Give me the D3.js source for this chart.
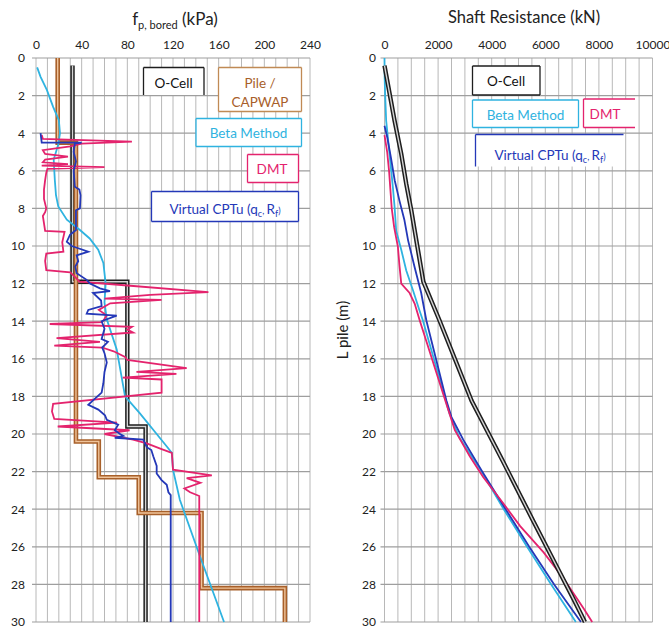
<!DOCTYPE html>
<html>
<head>
<meta charset="utf-8">
<script src="https://cdn.jsdelivr.net/npm/d3@7"></script>
<style>
  body { margin: 0; background: #fff; }
  svg { display: block; font-family: Lato, "Open Sans", sans-serif; }
</style>
</head>
<body>
<svg id="chart" width="669" height="630"></svg>
<script>
// ---- axis ticks ----
const depthTicks = d3.range(0, 31, 2);
const fsTicks = [0, 40, 80, 120, 160, 200, 240];
const qsTicks = [0, 2000, 4000, 6000, 8000, 10000];

// ---- unit shaft friction profiles: [depth (m), fs (kPa)] ----
const ocellFs = [[0.4,32],[11.9,32],[11.9,80],[19.6,80],[19.6,96],[30,96]];
const capwapFs = [[0,19],[4.5,19],[4.5,35],[20.4,35],[20.4,55],[22.3,55],[22.3,90],[24.2,90],
  [24.2,145],[28.2,145],[28.2,218],[30,218]];
const betaFs = [[0.5,1],[1,4],[1.7,9.5],[2.6,15],[3.3,20],[4.0,21],[4.6,19.5],[5.4,15.5],[6.5,16.5],
  [7.3,17.5],[7.9,19.5],[8.6,27],[9.15,38.5],[9.6,47],[10.2,54.5],[10.9,59],[12,61],[13,60],
  [13.9,62],[15.5,70.7],[18,78],[18.9,91],[20,105.7],[21,119],[21.9,120],[23.5,126],[26.5,143.6],[30,164.7]];
const dmtFs = [[4.1,5],[4.3,6],[4.45,84],[4.55,40],[4.7,30],[4.9,6],[5.1,8],[5.25,28],[5.4,8],[5.55,6],
  [5.65,28],[5.72,5],[5.8,60],[5.9,10],[6.1,9],[6.5,8],[7.0,7],[7.5,7],[8.0,9],[8.2,8],[8.4,6],[8.8,7],
  [9.2,8],[9.25,25],[9.8,23],[10.3,24],[10.4,9],[10.8,8],[11.28,9],[11.4,30],[11.7,35],[11.9,38],
  [12.1,80],[12.45,151],[12.6,100],[12.8,60],[12.87,110],[13.05,65],[13.4,55],[13.7,62],[14.05,58],
  [14.15,12],[14.3,84],[14.45,80],[14.6,85],[14.9,18],[15.1,56],[15.3,16],[15.4,58],[15.6,68],[15.9,78],
  [16.06,80],[16.5,132],[16.7,88],[16.8,123],[17.0,76],[17.1,110],[17.8,110],[18.4,15],[18.8,14],
  [19.2,16],[19.4,71],[19.6,19],[19.8,82],[20.0,60],[20.3,85],[20.5,97],[20.8,110],[21.0,119],
  [21.9,120],[22.2,154],[22.35,132],[22.6,144],[22.9,130],[23.1,135],[23.3,143],[24.2,143],[30,143]];
const cptuFs = [[4.0,4],[4.5,5],[4.5,40],[4.55,34],[5.0,33],[5.5,35],[6.0,33],[6.85,34],[7.0,38],[7.3,39],
  [8.0,38.5],[8.1,35],[9.15,35],[9.4,29.8],[9.77,27],[10.0,31.3],[10.3,45.8],[10.5,35.6],[10.8,37],
  [11.1,34.4],[11.45,35.6],[11.8,44.4],[12.0,47.3],[12.25,56],[12.4,64.8],[12.5,50],[12.9,57],
  [13.2,57.5],[13.4,45.8],[13.6,44.4],[13.7,70.7],[14.0,57.5],[14.4,60],[14.95,57.5],[15.1,63],
  [15.4,58],[15.7,60],[16.2,62],[16.7,60],[17.3,59],[17.8,57.5],[18.2,50.2],[18.45,45.8],[18.7,54.6],
  [19.0,60.4],[19.25,62],[19.5,72],[19.8,69],[20.0,73.6],[20.1,76.5],[20.2,69],[20.3,94],[20.7,97],
  [20.85,101],[21.2,102.8],[21.7,105.7],[22.1,105.7],[22.45,110],[22.7,114.5],[23.1,116],[23.25,118],[30,118]];

// ---- cumulative shaft resistance: [depth (m), Qs (kN)] ----
const ocellQs = [[0.4,0],[3.33,375],[5.1,625],[6.7,812],[8.1,1000],[9.9,1212],[11.9,1450],[13.95,2050],
  [18.23,3250],[21.4,4400],[24.6,5540],[28.8,7060],[30,7480]];
const betaQs = [[0,0],[1,5],[2,25],[3.33,62],[5.1,187],[6.87,312],[7.9,375],[9.2,437],[10.2,625],
  [11.3,812],[12.35,1062],[13.4,1300],[13.95,1430],[18.23,2290],[18.9,2420],[20.2,2800],[22,3620],
  [24,4450],[26,5320],[28,6220],[30,7140]];
const cptuQs = [[3.6,0],[4.2,100],[5.3,240],[6.5,380],[7.6,560],[8.6,740],[9.7,880],[11.1,1120],
  [12.5,1370],[13.95,1560],[18.23,2312],[19.1,2500],[20.3,2937],[22,3650],[24,4520],[26,5400],
  [28,6330],[30,7330]];
const dmtQs = [[4.1,0],[5,100],[6,170],[7,220],[8,270],[9.0,360],[10.05,500],[11.1,562],[12.0,625],
  [12.5,937],[13.06,1125],[13.95,1312],[18.7,2375],[19.8,2625],[21.2,3187],[22.3,3687],[23.7,4437],
  [24.9,5062],[26.3,5937],[27.7,6687],[29.3,7437],[30,7750]];

// ---- colours ----
const C = {
  ocell: "#1e1e1e", ocellIn: "#d4d4d4",
  capwap: "#a8602a", capwapIn: "#efc39a",
  beta: "#2fb3e0", dmt: "#e4236d", cptu: "#2438b8"
};

const svg = d3.select("#chart");
const plotTop = 58, plotBottom = 622;
const y = d3.scaleLinear().domain([0, 30]).range([plotTop, plotBottom]);
const xL = d3.scaleLinear().domain([0, 240]).range([36, 310]);
const xR = d3.scaleLinear().domain([0, 10000]).range([384.5, 652.5]);

function panel(x, minorStep, ticks, tickFmt, labelX) {
  const g = svg.append("g");
  const [d0, d1] = x.domain();
  // vertical minor grid
  g.selectAll(".vg").data(d3.range(d0, d1 + 1e-6, minorStep)).join("line")
    .attr("x1", d => x(d)).attr("x2", d => x(d))
    .attr("y1", plotTop).attr("y2", plotBottom)
    .attr("stroke", "#b8b8b8").attr("stroke-width", 1);
  // horizontal depth grid
  g.selectAll(".hg").data(depthTicks).join("line")
    .attr("x1", x.range()[0] - 4).attr("x2", x.range()[1])
    .attr("y1", d => y(d)).attr("y2", d => y(d))
    .attr("stroke", "#9e9e9e").attr("stroke-width", 1.2);
  // top axis labels
  const ax = d3.axisTop(x).tickValues(ticks).tickSize(0).tickPadding(9).tickFormat(tickFmt);
  const ag = g.append("g").attr("transform", `translate(0,${plotTop})`).call(ax);
  ag.select(".domain").remove();
  ag.selectAll("text").attr("font-size", 12).attr("fill", "#222").attr("font-family", "Lato, sans-serif");
  // left depth labels
  const ay = d3.axisLeft(y).tickValues(depthTicks).tickSize(0).tickPadding(0).tickFormat(d3.format("d"));
  const yg = g.append("g").attr("transform", `translate(${labelX},0)`).call(ay);
  yg.select(".domain").remove();
  yg.selectAll("text").attr("font-size", 12).attr("fill", "#222").attr("font-family", "Lato, sans-serif");
  return g;
}

panel(xL, 10, fsTicks, d3.format("d"), 25);
panel(xR, 500, qsTicks, d3.format("d"), 376);

function drawLine(x, data, color, width, inner) {
  const line = d3.line().x(d => x(d[1])).y(d => y(d[0]));
  svg.append("path").datum(data).attr("d", line)
    .attr("fill", "none").attr("stroke", color).attr("stroke-width", width)
    .attr("stroke-linejoin", "miter");
  if (inner) {
    svg.append("path").datum(data).attr("d", line)
      .attr("fill", "none").attr("stroke", inner).attr("stroke-width", 1.4)
      .attr("stroke-linejoin", "miter");
  }
}

// left panel: unit friction profiles
drawLine(xL, ocellFs, C.ocell, 4.4, C.ocellIn);
drawLine(xL, capwapFs, C.capwap, 4.6, C.capwapIn);
drawLine(xL, betaFs, C.beta, 1.8);
drawLine(xL, dmtFs, C.dmt, 1.8);
drawLine(xL, cptuFs, C.cptu, 1.8);

// right panel: cumulative shaft resistance
drawLine(xR, betaQs, C.beta, 1.8);
drawLine(xR, cptuQs, C.cptu, 1.8);
drawLine(xR, dmtQs, C.dmt, 1.8);
drawLine(xR, ocellQs, C.ocell, 4.4, C.ocellIn);

// ---- titles ----
const t1 = svg.append("text").attr("x", 175).attr("y", 25).attr("text-anchor", "middle")
  .attr("fill", "#222").attr("font-size", 17);
t1.append("tspan").text("f");
t1.append("tspan").attr("font-size", 11).attr("dy", 4).text("p, bored");
t1.append("tspan").attr("dy", -4).text(" (kPa)");

svg.append("text").attr("x", 524).attr("y", 23).attr("text-anchor", "middle")
  .attr("fill", "#222").attr("font-size", 16.5).text("Shaft Resistance (kN)");

svg.append("text").attr("transform", "translate(348,330) rotate(-90)")
  .attr("text-anchor", "middle").attr("fill", "#222").attr("font-size", 15).text("L pile  (m)");

// ---- legend labels ----
function box(x0, y0, x1, y1, color, sides) {
  svg.append("rect").attr("x", x0).attr("y", y0).attr("width", x1 - x0).attr("height", y1 - y0)
    .attr("fill", "#fff");
  const p = d3.path();
  const s = sides || "tlrb";
  if (s.includes("t")) { p.moveTo(x0, y0); p.lineTo(x1, y0); }
  if (s.includes("l")) { p.moveTo(x0, y0); p.lineTo(x0, y1); }
  if (s.includes("r")) { p.moveTo(x1, y0); p.lineTo(x1, y1); }
  if (s.includes("b")) { p.moveTo(x0, y1); p.lineTo(x1, y1); }
  svg.append("path").attr("d", p.toString()).attr("fill", "none")
    .attr("stroke", color).attr("stroke-width", 1.3);
}
function label(x, yb, color, parts, size) {
  const t = svg.append("text").attr("x", x).attr("y", yb).attr("text-anchor", "middle")
    .attr("fill", color).attr("font-size", size || 13.5);
  parts.forEach(p => {
    if (typeof p === "string") t.append("tspan").text(p);
    else t.append("tspan").attr("font-size", 9).attr("dy", p.dy).text(p.t);
  });
}
const cptuLabel = ["Virtual CPTu (q", {t: "c", dy: 3}, {t: ", ", dy: -3}, "R", {t: "f", dy: 3}, {t: ")", dy: -3}];

// left panel legend
box(143.5, 67.5, 204, 95, C.ocell, "tlr");
label(173.5, 87.5, "#111", ["O-Cell"]);
box(218.5, 67.5, 301.5, 111.5, "#c08a55");
label(260, 88, C.capwap, ["Pile /"]);
label(260, 106.5, C.capwap, ["CAPWAP"]);
box(196, 118.5, 301.5, 146.5, C.beta);
label(248.5, 138, C.beta, ["Beta Method"]);
box(247.5, 154.5, 298.5, 182.5, C.dmt);
label(272, 174, C.dmt, ["DMT"]);
box(151.5, 191.5, 298.5, 221.5, C.cptu);
label(225, 213.5, C.cptu, cptuLabel);

// right panel legend
box(472.5, 66, 540, 95, C.ocell);
label(506, 85.5, "#111", ["O-Cell"]);
box(472.5, 100, 578.5, 127.5, C.beta);
label(525.5, 119.5, C.beta, ["Beta Method"]);
box(583.5, 99, 635, 127.5, C.dmt, "tlb");
label(605, 119, C.dmt, ["DMT"]);
box(475.5, 134.5, 623.5, 166.5, C.cptu, "tl");
label(550, 159.5, C.cptu, cptuLabel);
</script>
</body>
</html>
